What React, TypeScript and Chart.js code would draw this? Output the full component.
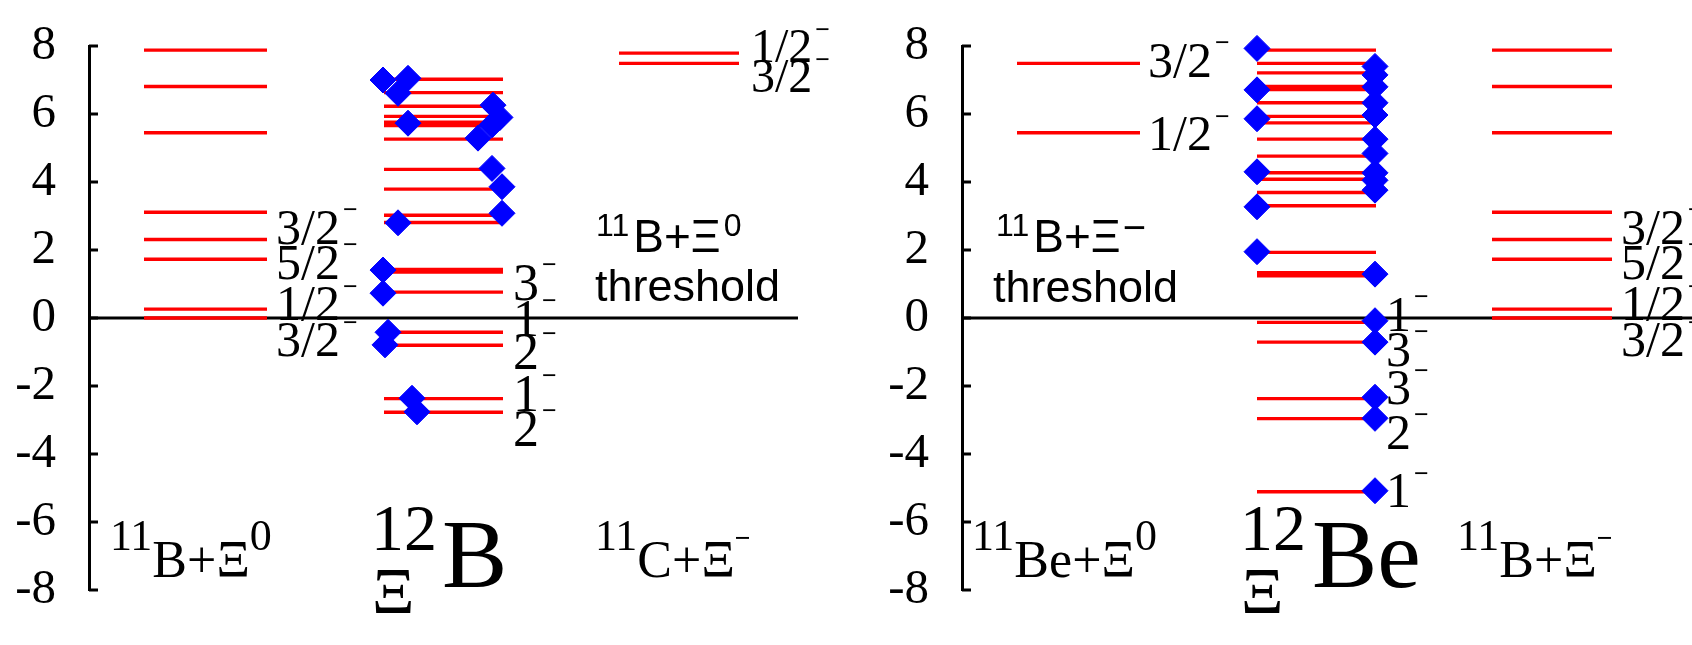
import { useEffect, useRef } from 'react';
import { Chart, registerables } from 'chart.js';

Chart.register(...registerables);

const SERIF = '"Liberation Serif", "Times New Roman", serif';
const SANS = '"Liberation Sans", Arial, sans-serif';

// Energy axis (MeV, relative to the Ξ threshold)
const Y_TICKS = [-8, -6, -4, -2, 0, 2, 4, 6, 8];

// Horizontal extents of the three level columns in each panel
const COL_LEFT = [55, 178];
const COL_MID = [295, 414];
const COL_RIGHT = [530, 650];

// 11B + Ξ levels (used in both panels)
const B11_LEVELS = [0, 0.26, 1.73, 2.31, 3.11, 5.45, 6.81, 7.88];
const B11_SPINS = ['3/2', '5/2', '1/2', '3/2'];
const B11_SPIN_E = [2.18, 1.15, -0.06, -1.12];

// 11C + Ξ- levels
const C11_LEVELS = [7.49, 7.79];
const C11_SPINS = ['1/2', '3/2'];
const C11_SPIN_E = [7.53, 6.65];

// 12ΞB levels and calculated states
const XI12B_LEVELS = [
  7.02, 6.63, 6.23, 5.93, 5.76, 5.66, 5.26, 4.37, 3.79, 3.02, 2.81, 1.43, 1.35, 0.76, -0.42, -0.8,
  -2.37, -2.77,
];
const XI12B_POINT_X = [
  294, 319, 309, 319, 404, 411, 403, 389, 403, 413, 413, 309, 294, 294, 299, 296, 323, 328,
];
const XI12B_POINT_E = [
  7.0, 7.05, 6.61, 5.73, 6.26, 5.9, 5.68, 5.29, 4.4, 3.86, 3.08, 2.8, 1.41, 0.73, -0.42, -0.79, -2.36,
  -2.76,
];
const XI12B_SPINS = ['3', '1', '2', '1', '2'];
const XI12B_SPIN_E = [0.53, -0.53, -1.5, -2.74, -3.76];

// 11Be + Ξ0 levels
const BE11_LEVELS = [5.45, 7.49];
const BE11_SPINS = ['3/2', '1/2'];
const BE11_SPIN_E = [7.1, 4.94];

// 12ΞBe levels and calculated states
const XI12BE_LEVELS = [
  7.88, 7.49, 7.21, 6.81, 6.72, 6.33, 5.93, 5.74, 5.26, 4.76, 4.27, 4.08, 3.69, 3.3, 1.93, 1.33, 1.24,
  -0.13, -0.71, -2.37, -2.96, -5.11,
];
const XI12BE_LEFT_E = [7.93, 6.71, 5.86, 4.3, 3.27, 1.95];
const XI12BE_RIGHT_E = [
  7.4, 7.15, 6.8, 6.33, 5.97, 5.26, 4.84, 4.27, 4.05, 3.76, 1.29, -0.08, -0.71, -2.33, -2.95, -5.08,
];
const XI12BE_SPINS = ['1', '3', '3', '2', '1'];
const XI12BE_SPIN_E = [-0.38, -1.41, -2.53, -3.85, -5.56];

type Run = { t: string; size: number; sans?: boolean; bold?: boolean; rise?: number; gap?: number };
type Note = { u: number; e: number; runs: Run[] };

const spin = (label: string, u: number, e: number, size: number): Note => ({
  u,
  e,
  runs: [
    { t: label, size },
    { t: '−', size: 26, bold: true, gap: 3, rise: 0.64 * size - 6.5 },
  ],
});

const levelSegments = (levels: number[], col: number[]) =>
  levels.flatMap((e) => [
    { x: col[0], y: e },
    { x: col[1], y: e },
    { x: col[1], y: null },
  ]);

type Panel = {
  left: number;
  width: number;
  axisWidth: number;
  padRight: number;
  xMax: number;
  levels: { x: number; y: number | null }[];
  points: { x: number; y: number }[];
  notes: Note[];
};

const LEFT_PANEL: Panel = {
  left: 0,
  width: 870,
  axisWidth: 89,
  padRight: 72,
  xMax: 709,
  levels: [
    ...levelSegments(B11_LEVELS, COL_LEFT),
    ...levelSegments(XI12B_LEVELS, COL_MID),
    ...levelSegments(C11_LEVELS, COL_RIGHT),
  ],
  points: XI12B_POINT_X.map((x, i) => ({ x, y: XI12B_POINT_E[i] })),
  notes: [
    ...B11_SPINS.map((s, i) => spin(s, 187, B11_SPIN_E[i], 50)),
    ...C11_SPINS.map((s, i) => spin(s, 662, C11_SPIN_E[i], 48)),
    ...XI12B_SPINS.map((s, i) => spin(s, 424, XI12B_SPIN_E[i], 52)),
    {
      u: 507,
      e: 1.94,
      runs: [
        { t: '11', size: 32, sans: true, rise: 16 },
        { t: 'B+Ξ', size: 46, sans: true, gap: 4 },
        { t: '0', size: 32, sans: true, rise: 16, gap: 3 },
      ],
    },
    { u: 506, e: 0.5, runs: [{ t: 'threshold', size: 45, sans: true }] },
    {
      u: 21,
      e: -7.62,
      runs: [
        { t: '11', size: 44, rise: 27 },
        { t: 'B+Ξ', size: 52 },
        { t: '0', size: 44, rise: 27 },
      ],
    },
    { u: 282, e: -6.82, runs: [{ t: '12', size: 66 }] },
    { u: 283, e: -8.68, runs: [{ t: 'Ξ', size: 66 }] },
    { u: 353, e: -7.91, runs: [{ t: 'B', size: 98 }] },
    {
      u: 506,
      e: -7.62,
      runs: [
        { t: '11', size: 44, rise: 27 },
        { t: 'C+Ξ', size: 52 },
        { t: '−', size: 28, bold: true, rise: 30 },
      ],
    },
  ],
};

const RIGHT_PANEL: Panel = {
  left: 870,
  width: 822,
  axisWidth: 92,
  padRight: 0,
  xMax: 730,
  levels: [
    ...levelSegments(BE11_LEVELS, COL_LEFT),
    ...levelSegments(XI12BE_LEVELS, COL_MID),
    ...levelSegments(B11_LEVELS, COL_RIGHT),
  ],
  points: [
    ...XI12BE_LEFT_E.map((y) => ({ x: COL_MID[0], y })),
    ...XI12BE_RIGHT_E.map((y) => ({ x: COL_MID[1] - 1, y })),
  ],
  notes: [
    ...BE11_SPINS.map((s, i) => spin(s, 186, BE11_SPIN_E[i], 50)),
    ...XI12BE_SPINS.map((s, i) => spin(s, 424, XI12BE_SPIN_E[i], 50)),
    ...B11_SPINS.map((s, i) => spin(s, 659, B11_SPIN_E[i], 50)),
    {
      u: 34,
      e: 1.94,
      runs: [
        { t: '11', size: 32, sans: true, rise: 16 },
        { t: 'B+Ξ', size: 46, sans: true, gap: 4 },
        { t: '−', size: 40, sans: true, rise: 11, gap: 2 },
      ],
    },
    { u: 31, e: 0.47, runs: [{ t: 'threshold', size: 45, sans: true }] },
    {
      u: 10,
      e: -7.62,
      runs: [
        { t: '11', size: 44, rise: 27 },
        { t: 'Be+Ξ', size: 52 },
        { t: '0', size: 44, rise: 27 },
      ],
    },
    { u: 278, e: -6.82, runs: [{ t: '12', size: 66 }] },
    { u: 279, e: -8.68, runs: [{ t: 'Ξ', size: 66 }] },
    { u: 350, e: -7.91, runs: [{ t: 'Be', size: 98 }] },
    {
      u: 495,
      e: -7.62,
      runs: [
        { t: '11', size: 44, rise: 27 },
        { t: 'B+Ξ', size: 52 },
        { t: '−', size: 28, bold: true, rise: 30 },
      ],
    },
  ],
};

function makeNotesPlugin(notes: Note[]) {
  return {
    id: 'notes',
    afterDraw(chart: any) {
      const { ctx } = chart;
      const xs = chart.scales.x;
      const ys = chart.scales.y;
      ctx.save();
      // inward tick marks on the energy axis
      ctx.strokeStyle = '#000';
      ctx.lineWidth = 3;
      for (const t of ys.ticks) {
        const py = ys.getPixelForValue(t.value);
        ctx.beginPath();
        ctx.moveTo(ys.right, py);
        ctx.lineTo(ys.right + 9, py);
        ctx.stroke();
      }
      // level labels and nucleus names
      ctx.fillStyle = '#000';
      ctx.textAlign = 'left';
      ctx.textBaseline = 'alphabetic';
      for (const n of notes) {
        let x = xs.getPixelForValue(n.u);
        const y = ys.getPixelForValue(n.e);
        for (const r of n.runs) {
          x += r.gap ?? 0;
          ctx.font = `${r.bold ? 'bold ' : ''}${r.size}px ${r.sans ? SANS : SERIF}`;
          ctx.fillText(r.t, x, y - (r.rise ?? 0));
          x += ctx.measureText(r.t).width;
        }
      }
      ctx.restore();
    },
  };
}

function LevelPanel({ panel }: { panel: Panel }) {
  const ref = useRef<HTMLCanvasElement | null>(null);

  useEffect(() => {
    if (!ref.current) return;
    const chart = new Chart(ref.current, {
      type: 'line',
      data: {
        datasets: [
          {
            data: [
              { x: 0, y: 0 },
              { x: panel.xMax, y: 0 },
            ],
            borderColor: '#000',
            borderWidth: 3,
            pointRadius: 0,
            order: 3,
          },
          {
            data: panel.levels as any,
            borderColor: '#ff0000',
            borderWidth: 3.4,
            borderCapStyle: 'butt',
            pointRadius: 0,
            spanGaps: false,
            order: 2,
          },
          {
            data: panel.points,
            showLine: false,
            clip: false,
            pointStyle: 'rectRot',
            pointRadius: 13,
            pointBackgroundColor: '#0000ff',
            pointBorderColor: '#0000ff',
            pointBorderWidth: 1,
            order: 1,
          },
        ],
      },
      options: {
        animation: false,
        responsive: false,
        devicePixelRatio: 1,
        events: [],
        layout: {
          autoPadding: false,
          padding: { left: 0, right: panel.padRight, top: 46, bottom: 55 },
        },
        plugins: { legend: { display: false }, tooltip: { enabled: false } },
        scales: {
          x: { type: 'linear', min: 0, max: panel.xMax, display: false },
          y: {
            type: 'linear',
            min: -8,
            max: 8,
            afterBuildTicks: (s: any) => {
              s.ticks = Y_TICKS.map((value) => ({ value }));
            },
            afterFit: (s: any) => {
              s.width = panel.axisWidth;
              s.paddingTop = 0;
              s.paddingBottom = 0;
            },
            grid: { display: false, drawTicks: false },
            border: { display: true, color: '#000', width: 3 },
            ticks: {
              color: '#000',
              padding: 33,
              font: { family: SERIF, size: 49 },
              callback: (v: any) => String(v),
            },
          },
        },
      },
      plugins: [makeNotesPlugin(panel.notes)],
    } as any);
    return () => chart.destroy();
  }, [panel]);

  return (
    <canvas
      ref={ref}
      width={panel.width}
      height={645}
      style={{ position: 'absolute', left: panel.left, top: 0, width: panel.width, height: 645 }}
    />
  );
}

export default function App() {
  return (
    <div
      style={{
        position: 'absolute',
        left: 0,
        top: 0,
        width: 1692,
        height: 645,
        background: '#fff',
        overflow: 'hidden',
      }}
    >
      <LevelPanel panel={LEFT_PANEL} />
      <LevelPanel panel={RIGHT_PANEL} />
    </div>
  );
}
